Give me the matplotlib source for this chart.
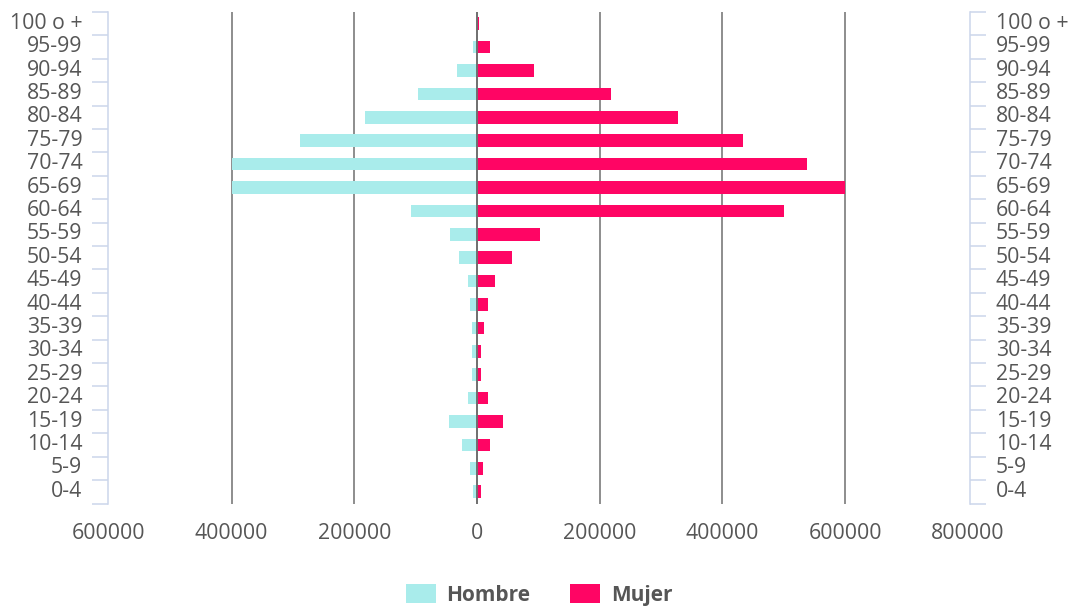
import matplotlib
matplotlib.use("Agg")
import matplotlib.pyplot as plt
import matplotlib.transforms as mtransforms
from matplotlib.patches import Patch
import numpy as np

# Age groups, top to bottom
grupos = ["100 o +", "95-99", "90-94", "85-89", "80-84", "75-79", "70-74",
          "65-69", "60-64", "55-59", "50-54", "45-49", "40-44", "35-39",
          "30-34", "25-29", "20-24", "15-19", "10-14", "5-9", "0-4"]

hombre = [1000, 6000, 33000, 96000, 183000, 288000, 400000, 400000, 108000,
          44000, 29000, 14000, 12000, 9000, 9000, 9000, 15000, 45000, 24000,
          12000, 6000]

mujer = [3000, 21000, 93000, 219000, 327000, 433000, 538000, 600000, 500000,
         102000, 57000, 30000, 18000, 12000, 6000, 6000, 18000, 42000, 21000,
         9000, 6000]

x_ticks = [-600000, -400000, -200000, 0, 200000, 400000, 600000, 800000]
grid_vals = [-400000, -200000, 200000, 400000, 600000]

C_HOMBRE = "#a9eceb"
C_MUJER = "#ff0564"
C_TEXT = "#565656"
C_AXIS = "#ccd6eb"
C_GRID = "#6f6f6f"

plt.rcParams["font.family"] = ["Open Sans", "DejaVu Sans"]

W, H = 1072, 610
fig = plt.figure(figsize=(W / 100, H / 100), dpi=100)
ax = fig.add_axes([108 / W, 1 - 503.5 / H, (970 - 108) / W, (503.5 - 12) / H])

y = np.arange(len(grupos))
ax.barh(y, -np.array(hombre), height=0.54, color=C_HOMBRE, zorder=2)
ax.barh(y, np.array(mujer), height=0.54, color=C_MUJER, zorder=2)

for g in grid_vals:
    ax.axvline(g, color=C_GRID, lw=1.1, zorder=1)
ax.axvline(0, color=C_GRID, lw=1.4, zorder=3)

ax.set_xlim(-601500, 803500)
ax.set_ylim(len(grupos) - 0.5, -0.5)

ax.set_xticks(x_ticks)
ax.set_xticklabels([f"{abs(v)}" for v in x_ticks])
ax.tick_params(axis="x", length=0, pad=14, labelsize=15.3, labelcolor=C_TEXT)

# boundary ticks on both sides, labels centred in each row
ax.set_yticks(np.arange(len(grupos) + 1) - 0.5)
ax.set_yticklabels([])
ax.set_yticks(y, minor=True)
ax.set_yticklabels(grupos, minor=True)
ax.tick_params(axis="y", which="major", left=True, right=True, length=11.5,
               width=1.1, color=C_AXIS, direction="out")
ax.tick_params(axis="y", which="minor", left=False, right=False, length=0,
               labelleft=True, labelright=True, pad=18.5, labelsize=15.3,
               labelcolor=C_TEXT)

# nudge row labels slightly upward
shift = mtransforms.ScaledTranslation(0, 3 / 100, fig.dpi_scale_trans)
for tick in ax.yaxis.get_minor_ticks():
    tick.label1.set_transform(tick.label1.get_transform() + shift)
    tick.label2.set_transform(tick.label2.get_transform() + shift)

for side in ("top", "bottom"):
    ax.spines[side].set_visible(False)
for side in ("left", "right"):
    ax.spines[side].set_color(C_AXIS)
    ax.spines[side].set_linewidth(1.1)

handles = [Patch(facecolor=C_HOMBRE, edgecolor="none", label="Hombre"),
           Patch(facecolor=C_MUJER, edgecolor="none", label="Mujer")]
leg = fig.legend(handles=handles, loc="center", bbox_to_anchor=(539 / W, 1 - 595 / H),
                 ncol=2, frameon=False, handlelength=1.45, handleheight=1.05,
                 handletextpad=0.5, columnspacing=1.9,
                 prop={"size": 15, "weight": "bold"})
for t in leg.get_texts():
    t.set_color(C_TEXT)

fig.savefig("out.png", dpi=100, facecolor="white")
